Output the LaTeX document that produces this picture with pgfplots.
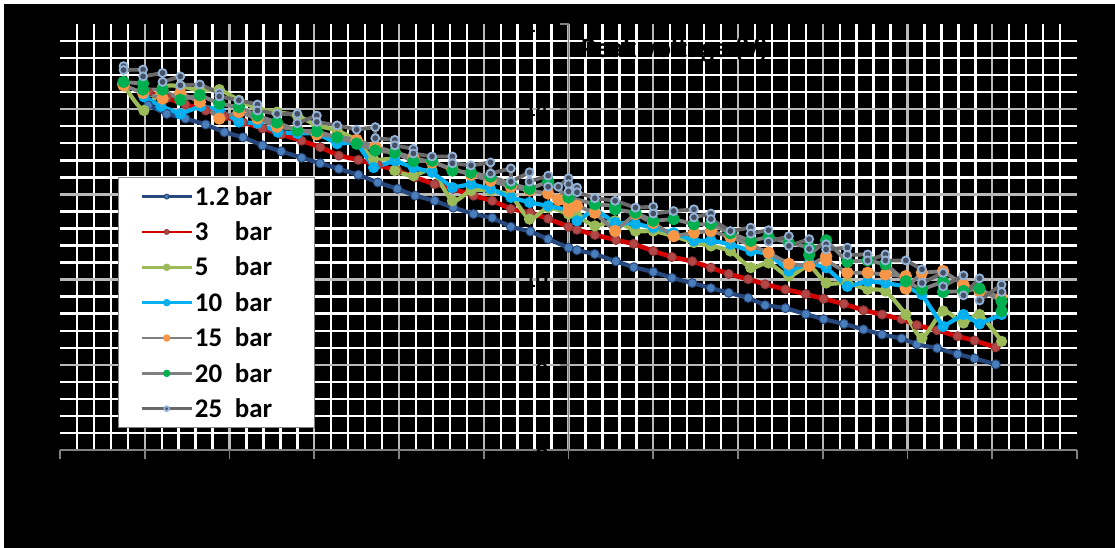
\documentclass[border=0pt]{standalone}
\usepackage{pgfplots}
\pgfplotsset{compat=1.18}
\usepackage{fontspec}
\setmainfont{Carlito}
\definecolor{axgray}{RGB}{128,128,128}
\definecolor{majgrid}{RGB}{185,185,185}
\definecolor{cAline}{RGB}{38,72,125}
\definecolor{cAmark}{RGB}{74,126,187}
\definecolor{cBline}{RGB}{210,0,0}
\definecolor{cBmark}{RGB}{180,70,70}
\definecolor{cC}{RGB}{155,187,89}
\definecolor{cD}{RGB}{0,176,240}
\definecolor{cDmark}{RGB}{75,172,198}
\definecolor{grayline}{RGB}{127,127,127}
\definecolor{grayline2}{RGB}{105,105,105}
\definecolor{cEmark}{RGB}{247,150,70}
\definecolor{cFmark}{RGB}{0,176,80}
\definecolor{cGring}{RGB}{149,179,215}
\definecolor{cGdot}{RGB}{70,80,100}
\begin{document}
\begin{tikzpicture}[x=1bp,y=1bp]
\fill[white] (0,0) rectangle (1115,548);
\fill[black] (4,0) rectangle (1115,544);
\begin{axis}[
  at={(60bp,98bp)}, anchor=south west,
  scale only axis, width=1017bp, height=426bp,
  xmin=-6, xmax=6, ymin=6, ymax=16,
  axis x line=bottom, axis y line=center,
  hide obscured x ticks=false, hide obscured y ticks=false,
  axis line style={-, draw=axgray, line width=1.8bp},
  xtick={-5,...,5}, extra x ticks={-6,6}, extra x tick style={grid=none},
  xticklabels={}, extra x tick labels={},
  ytick={8,10,12,14}, extra y ticks={6,16}, extra y tick style={grid=none},
  minor xtick={-5.8,-5.6,...,5.81},
  minor ytick={6.4,6.8,...,15.61},
  grid=both,
  minor grid style={white, line width=2.4bp},
  major grid style={majgrid, line width=2.4bp},
  tick align=outside, major tick length=9bp, minor tick length=0pt,
  tick style={draw=axgray, line width=1.6bp},
  /pgf/number format/assume math mode=true,
  yticklabel style={font=\bfseries\fontsize{24}{24}\selectfont, text=black, xshift=-8bp},
  legend style={at={(rel axis cs:0.057,0.641)}, anchor=north west,
    draw=axgray, fill=white, line width=1bp,
    font=\bfseries\fontsize{27}{28}\selectfont, text=black,
    row sep=11bp, inner xsep=22bp, inner ysep=7bp},
  legend cell align=left,
  legend image code/.code={\draw[mark repeat=2,mark phase=2,#1,line width=2.5bp, mark size=2.4bp] plot coordinates {(0bp,0bp) (25bp,0bp) (50bp,0bp)};},
]
% 1.2 bar
\addplot[color=cAline, line width=4.2bp, mark=*, mark size=4.5bp, mark options={fill=cAmark, draw=cAline, line width=1bp}] coordinates {
(-4.96,14.09) (-4.74,13.89) (-4.52,13.78) (-4.28,13.64) (-4.06,13.46) (-3.84,13.34) (-3.61,13.15) (-3.39,13.01) (-3.15,12.86) (-2.93,12.73) (-2.71,12.60) (-2.48,12.46) (-2.25,12.28) (-2.02,12.13) (-1.81,11.97) (-1.58,11.85) (-1.36,11.69) (-1.12,11.54) (-0.90,11.45) (-0.68,11.24) (-0.45,11.13) (-0.24,10.95) (0,10.75) (0.10,10.69) (0.31,10.60) (0.56,10.43) (0.77,10.29) (1.00,10.18) (1.22,10.04) (1.46,9.92) (1.68,9.80) (1.89,9.69) (2.12,9.57) (2.32,9.40) (2.56,9.33) (2.80,9.19) (3.01,9.07) (3.25,8.96) (3.48,8.83) (3.70,8.71) (3.93,8.62) (4.11,8.48) (4.35,8.39) (4.59,8.25) (4.79,8.15) (5.04,8.01)};
\addlegendentry{\makebox[40bp][l]{1.2}\makebox[56bp][l]{bar}}
% 3 bar
\addplot[color=cBline, line width=4.6bp, mark=*, mark size=4.5bp, mark options={fill=cBmark, draw=cBmark!80!black, line width=1bp}] coordinates {
(-4.96,14.40) (-4.74,14.26) (-4.52,14.11) (-4.28,13.97) (-4.06,13.83) (-3.84,13.69) (-3.61,13.55) (-3.39,13.41) (-3.15,13.26) (-2.93,13.11) (-2.71,12.91) (-2.48,12.81) (-2.25,12.69) (-2.02,12.56) (-1.81,12.40) (-1.58,12.24) (-1.36,12.13) (-1.12,11.97) (-0.90,11.85) (-0.68,11.66) (-0.45,11.57) (-0.24,11.43) (0,11.24) (0.10,11.17) (0.31,11.05) (0.56,10.93) (0.77,10.84) (1.00,10.67) (1.22,10.53) (1.46,10.43) (1.68,10.28) (1.89,10.13) (2.12,10.01) (2.32,9.89) (2.56,9.77) (2.80,9.66) (3.01,9.55) (3.25,9.43) (3.48,9.28) (3.70,9.18) (3.93,9.07) (4.11,8.93) (4.35,8.81) (4.59,8.67) (4.79,8.57) (5.04,8.41)};
\addlegendentry{\makebox[40bp][l]{3}bar}
% 5 bar
\addplot[color=cC, line width=4.2bp, smooth, tension=0.4, mark=*, mark size=3.4bp, mark options={fill=cC, draw=cC}] coordinates {
(-5.26,14.60) (-5.01,13.97) (-4.79,14.52) (-4.58,14.54) (-4.35,14.44) (-4.12,14.46) (-3.89,14.21) (-3.67,14.02) (-3.44,13.93) (-3.20,13.85) (-2.97,13.62) (-2.73,13.50) (-2.50,13.26) (-2.30,12.83) (-2.05,12.83) (-2.05,12.56) (-1.83,12.44) (-1.61,12.56) (-1.37,11.85) (-1.15,12.09) (-0.92,12.09) (-0.68,11.97) (-0.46,11.42) (-0.24,11.69) (0,11.54) (0.10,11.50) (0.31,11.26) (0.55,11.38) (0.79,11.14) (1.00,11.14) (1.24,11.02) (1.48,10.87) (1.68,10.79) (1.91,10.67) (2.15,10.28) (2.36,10.39) (2.60,10.08) (2.84,10.32) (3.04,9.92) (3.29,9.92) (3.53,9.77) (3.74,9.73) (3.98,9.18) (4.17,8.63) (4.42,9.26) (4.66,8.98) (4.85,9.18) (5.11,8.55)};
\addlegendentry{\makebox[40bp][l]{5}bar}
% 10 bar
\addplot[color=cD, line width=4.2bp, mark=*, mark size=3.4bp, mark options={fill=cDmark, draw=cD}] coordinates {
(-5.01,14.29) (-4.81,14.07) (-4.58,13.89) (-4.34,14.07) (-4.12,13.99) (-3.89,13.70) (-3.67,13.67) (-3.43,13.46) (-3.20,13.43) (-2.97,13.44) (-2.73,13.19) (-2.50,13.22) (-2.30,12.63) (-2.05,12.79) (-1.83,12.63) (-1.61,12.52) (-1.37,12.16) (-1.15,12.24) (-0.92,12.13) (-0.68,11.93) (-0.46,11.81) (-0.24,11.73) (0,11.63) (0.10,11.38) (0.31,11.65) (0.55,11.34) (0.79,11.31) (1.00,11.22) (1.24,11.10) (1.48,10.91) (1.68,10.92) (1.91,10.83) (2.15,10.67) (2.36,10.61) (2.60,10.20) (2.84,10.39) (3.04,10.28) (3.29,9.84) (3.53,9.96) (3.74,9.92) (3.98,9.84) (4.17,9.65) (4.42,8.90) (4.66,9.18) (4.85,8.96) (5.11,9.18)};
\addlegendentry{\makebox[40bp][l]{10}bar}
% 15 bar
\addplot[color=grayline, line width=3.8bp, mark=*, mark size=4.2bp, mark options={fill=cEmark, draw=cEmark}] coordinates {
(-5.25,14.56) (-5.02,14.38) (-4.79,14.25) (-4.58,14.38) (-4.35,14.17) (-4.12,13.78) (-3.89,13.93) (-3.67,13.78) (-3.44,13.59) (-3.20,13.52) (-2.97,13.41) (-2.73,13.36) (-2.50,13.28) (-2.28,13.12) (-2.05,12.99) (-1.83,12.86) (-1.61,12.75) (-1.37,12.60) (-1.15,12.46) (-0.92,12.32) (-0.68,12.18) (-0.46,12.09) (-0.24,12.02) (-0.12,11.87) (0,11.77) (0,11.61) (0.10,11.73) (0.31,11.57) (0.55,11.14) (0.79,11.54) (1.00,11.33) (1.24,11.02) (1.48,11.10) (1.68,11.14) (1.91,11.00) (2.15,10.81) (2.36,10.63) (2.60,10.37) (2.84,10.32) (3.04,10.55) (3.04,10.45) (3.29,10.16) (3.53,10.16) (3.74,10.12) (3.98,10.08) (3.98,9.79) (4.17,10.16) (4.42,10.20) (4.66,9.88) (4.85,9.73) (5.11,9.59)};
\addlegendentry{\makebox[40bp][l]{15}bar}
% 20 bar
\addplot[color=grayline, line width=3.8bp, mark=*, mark size=4.2bp, mark options={fill=cFmark, draw=cFmark}] coordinates {
(-5.25,14.64) (-5.02,14.60) (-5.02,14.46) (-4.79,14.46) (-4.58,14.22) (-4.35,14.33) (-4.12,14.13) (-3.89,14.05) (-3.67,13.85) (-3.44,13.69) (-3.20,13.50) (-2.97,13.48) (-2.73,13.34) (-2.50,13.19) (-2.28,13.03) (-2.05,12.98) (-1.83,12.78) (-1.61,12.79) (-1.37,12.56) (-1.15,12.51) (-0.92,12.42) (-0.68,12.25) (-0.46,12.13) (-0.24,12.30) (0,11.93) (0.31,11.77) (0.55,11.73) (0.55,11.65) (0.79,11.57) (1.00,11.38) (1.24,11.42) (1.48,11.30) (1.68,11.30) (1.91,11.09) (2.15,10.91) (2.36,11.00) (2.60,10.86) (2.84,10.76) (2.84,10.58) (3.04,10.92) (3.29,10.42) (3.53,10.45) (3.74,10.36) (3.98,9.96) (4.17,9.77) (4.42,9.95) (4.42,9.71) (4.66,9.73) (4.85,9.79) (5.11,9.49) (5.11,9.26)};
\addlegendentry{\makebox[40bp][l]{20}bar}
% 25 bar
\addplot[color=grayline2, line width=3.8bp, mark=*, mark size=4bp, mark options={fill=cGdot, draw=cGring, line width=1.8bp}] coordinates {
(-5.25,15.01) (-5.25,14.92) (-5.02,14.93) (-5.02,14.77) (-4.79,14.85) (-4.79,14.64) (-4.58,14.77) (-4.58,14.56) (-4.35,14.58) (-4.12,14.38) (-4.12,14.30) (-3.89,14.21) (-3.67,14.11) (-3.67,13.97) (-3.44,13.89) (-3.20,13.89) (-3.20,13.67) (-2.97,13.85) (-2.97,13.70) (-2.73,13.62) (-2.50,13.52) (-2.28,13.58) (-2.28,13.32) (-2.05,13.28) (-2.05,13.15) (-1.83,13.07) (-1.83,12.96) (-1.61,12.89) (-1.37,12.89) (-1.37,12.73) (-1.15,12.68) (-0.92,12.75) (-0.92,12.49) (-0.68,12.61) (-0.68,12.30) (-0.46,12.52) (-0.46,12.30) (-0.24,12.44) (-0.24,12.18) (-0.12,12.18) (0,12.38) (0,12.24) (0,12.07) (0.10,12.16) (0.10,12.05) (0.31,11.91) (0.55,11.85) (0.79,11.69) (1.00,11.71) (1.00,11.55) (1.24,11.61) (1.48,11.65) (1.48,11.46) (1.68,11.55) (1.68,11.42) (1.91,11.14) (2.15,11.22) (2.15,11.08) (2.36,11.16) (2.36,10.89) (2.60,11.02) (2.60,10.79) (2.84,10.95) (2.84,10.72) (3.04,10.83) (3.04,10.71) (3.29,10.75) (3.29,10.58) (3.53,10.59) (3.53,10.45) (3.74,10.59) (3.74,10.45) (3.98,10.45) (4.17,10.24) (4.17,9.92) (4.42,10.16) (4.42,9.84) (4.66,10.10) (4.66,9.63) (4.85,10.03) (4.85,9.51) (5.11,9.88) (5.11,9.71)};
\addlegendentry{\makebox[40bp][l]{25}bar}
\node[anchor=west, font=\bfseries\fontsize{28}{28}\selectfont, text=black] at (rel axis cs:0.509,0.941) {Peak voltage (V)};
\end{axis}
\pgfresetboundingbox
\useasboundingbox (0,0) rectangle (1115,548);
\end{tikzpicture}
\end{document}
